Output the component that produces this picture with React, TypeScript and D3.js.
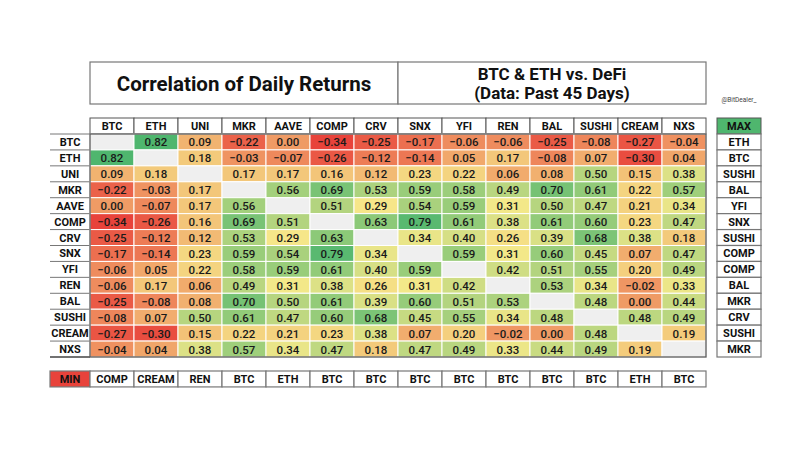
import React from "react";
import * as d3 from "d3";

// assets in table order
const assets = ["BTC", "ETH", "UNI", "MKR", "AAVE", "COMP", "CRV", "SNX", "YFI", "REN", "BAL", "SUSHI", "CREAM", "NXS"];

// correlation rows (null = diagonal)
const btcRow = [null, 0.82, 0.09, -0.22, 0.0, -0.34, -0.25, -0.17, -0.06, -0.06, -0.25, -0.08, -0.27, -0.04];
const ethRow = [0.82, null, 0.18, -0.03, -0.07, -0.26, -0.12, -0.14, 0.05, 0.17, -0.08, 0.07, -0.3, 0.04];
const uniRow = [0.09, 0.18, null, 0.17, 0.17, 0.16, 0.12, 0.23, 0.22, 0.06, 0.08, 0.5, 0.15, 0.38];
const mkrRow = [-0.22, -0.03, 0.17, null, 0.56, 0.69, 0.53, 0.59, 0.58, 0.49, 0.7, 0.61, 0.22, 0.57];
const aaveRow = [0.0, -0.07, 0.17, 0.56, null, 0.51, 0.29, 0.54, 0.59, 0.31, 0.5, 0.47, 0.21, 0.34];
const compRow = [-0.34, -0.26, 0.16, 0.69, 0.51, null, 0.63, 0.79, 0.61, 0.38, 0.61, 0.6, 0.23, 0.47];
const crvRow = [-0.25, -0.12, 0.12, 0.53, 0.29, 0.63, null, 0.34, 0.4, 0.26, 0.39, 0.68, 0.38, 0.18];
const snxRow = [-0.17, -0.14, 0.23, 0.59, 0.54, 0.79, 0.34, null, 0.59, 0.31, 0.6, 0.45, 0.07, 0.47];
const yfiRow = [-0.06, 0.05, 0.22, 0.58, 0.59, 0.61, 0.4, 0.59, null, 0.42, 0.51, 0.55, 0.2, 0.49];
const renRow = [-0.06, 0.17, 0.06, 0.49, 0.31, 0.38, 0.26, 0.31, 0.42, null, 0.53, 0.34, -0.02, 0.33];
const balRow = [-0.25, -0.08, 0.08, 0.7, 0.5, 0.61, 0.39, 0.6, 0.51, 0.53, null, 0.48, 0.0, 0.44];
const sushiRow = [-0.08, 0.07, 0.5, 0.61, 0.47, 0.6, 0.68, 0.45, 0.55, 0.34, 0.48, null, 0.48, 0.49];
const creamRow = [-0.27, -0.3, 0.15, 0.22, 0.21, 0.23, 0.38, 0.07, 0.2, -0.02, 0.0, 0.48, null, 0.19];
const nxsRow = [-0.04, 0.04, 0.38, 0.57, 0.34, 0.47, 0.18, 0.47, 0.49, 0.33, 0.44, 0.49, 0.19, null];

const rows = [btcRow, ethRow, uniRow, mkrRow, aaveRow, compRow, crvRow, snxRow, yfiRow, renRow, balRow, sushiRow, creamRow, nxsRow];

// most / least correlated asset per row / column
const maxLabels = ["ETH", "BTC", "SUSHI", "BAL", "YFI", "SNX", "SUSHI", "COMP", "COMP", "BAL", "MKR", "CRV", "SUSHI", "MKR"];
const minLabels = ["COMP", "CREAM", "REN", "BTC", "ETH", "BTC", "BTC", "BTC", "BTC", "BTC", "BTC", "BTC", "ETH", "BTC"];

const font = "Roboto, 'Liberation Sans', Arial, sans-serif";

export default function App() {
  const x = d3.scaleBand<string>().domain(assets).range([90, 706]);
  const y = d3.scaleBand<string>().domain(assets).range([134, 357]);

  const all = rows.flat().filter((v) => v !== null) as number[];
  const color = d3
    .scaleLinear<string>()
    .domain([d3.min(all)!, 0.3, d3.max(all)!])
    .range(["#e8433b", "#f6e98a", "#4fb66e"])
    .interpolate(d3.interpolateRgb);

  const bw = x.bandwidth();
  const bh = y.bandwidth();
  const headerY = 118;
  const minY = 371;
  const maxX = 717;

  return (
    <svg width={810} height={450} style={{ position: "absolute", left: 0, top: 0, background: "#fff" }} fontFamily={font}>
      {/* title boxes */}
      <rect x={90} y={62} width={308} height={42} fill="#fff" stroke="#777" strokeWidth={1.2} />
      <rect x={398} y={62} width={308} height={42} fill="#fff" stroke="#777" strokeWidth={1.2} />
      <text x={244} y={84} textAnchor="middle" dominantBaseline="central" fontSize={20.5} fontWeight={700} fill="#111">
        Correlation of Daily Returns
      </text>
      <text x={552} y={74} textAnchor="middle" dominantBaseline="central" fontSize={17} fontWeight={700} fill="#111">
        BTC &amp; ETH vs. DeFi
      </text>
      <text x={552} y={93} textAnchor="middle" dominantBaseline="central" fontSize={17} fontWeight={700} fill="#111">
        (Data: Past 45 Days)
      </text>
      <text x={739} y={100} textAnchor="middle" dominantBaseline="central" fontSize={6.5} fill="#444">
        @BitDealer_
      </text>

      {/* column headers */}
      {assets.map((a) => (
        <g key={"h" + a}>
          <rect x={x(a)} y={headerY} width={bw} height={134 - headerY} fill="#fff" stroke="#555" strokeWidth={1} />
          <text x={x(a)! + bw / 2} y={headerY + 8.5} textAnchor="middle" dominantBaseline="central" fontSize={11} fontWeight={700} fill="#111">
            {a}
          </text>
        </g>
      ))}

      {/* row labels */}
      {assets.map((a) => (
        <g key={"r" + a}>
          <line x1={50} x2={90} y1={y(a)! + bh} y2={y(a)! + bh} stroke="#777" strokeWidth={1} />
          <text x={70} y={y(a)! + bh / 2 + 0.5} textAnchor="middle" dominantBaseline="central" fontSize={11} fontWeight={700} fill="#111">
            {a}
          </text>
        </g>
      ))}
      <line x1={50} x2={90} y1={134} y2={134} stroke="#777" strokeWidth={1} />

      {/* cells */}
      {rows.map((row, i) =>
        row.map((v, j) => {
          const cx = x(assets[j])!;
          const cy = y(assets[i])!;
          return (
            <g key={i + "-" + j}>
              <rect x={cx} y={cy} width={bw} height={bh} fill={v === null ? "#efefef" : color(v)} stroke="#fff" strokeWidth={1} />
              {v !== null && (
                <text x={cx + bw / 2} y={cy + bh / 2 + 0.5} textAnchor="middle" dominantBaseline="central" fontSize={11.5} fontWeight={500} fill="#1a1a1a">
                  {d3.format(".2f")(v)}
                </text>
              )}
            </g>
          );
        })
      )}
      <rect x={90} y={134} width={616} height={223} fill="none" stroke="#5a5a5a" strokeWidth={1.3} />
      <line x1={50} x2={90} y1={357} y2={357} stroke="#5a5a5a" strokeWidth={1.3} />

      {/* MAX column */}
      <rect x={maxX} y={headerY} width={bw} height={134 - headerY} fill={color(d3.max(all)!)} stroke="#555" strokeWidth={1} />
      <text x={maxX + bw / 2} y={headerY + 8.5} textAnchor="middle" dominantBaseline="central" fontSize={11} fontWeight={700} fill="#111">
        MAX
      </text>
      {maxLabels.map((m, i) => (
        <g key={"max" + i}>
          <rect x={maxX} y={y(assets[i])} width={bw} height={bh} fill="#fff" stroke="#777" strokeWidth={1.2} />
          <text x={maxX + bw / 2} y={y(assets[i])! + bh / 2 + 0.5} textAnchor="middle" dominantBaseline="central" fontSize={11} fontWeight={700} fill="#111">
            {m}
          </text>
        </g>
      ))}

      {/* MIN row */}
      <rect x={50} y={minY} width={40} height={bh} fill={color(d3.min(all)!)} stroke="#777" strokeWidth={1.2} />
      <text x={70} y={minY + bh / 2 + 0.5} textAnchor="middle" dominantBaseline="central" fontSize={11} fontWeight={700} fill="#111">
        MIN
      </text>
      {minLabels.map((m, j) => (
        <g key={"min" + j}>
          <rect x={x(assets[j])} y={minY} width={bw} height={bh} fill="#fff" stroke="#777" strokeWidth={1.2} />
          <text x={x(assets[j])! + bw / 2} y={minY + bh / 2 + 0.5} textAnchor="middle" dominantBaseline="central" fontSize={11} fontWeight={700} fill="#111">
            {m}
          </text>
        </g>
      ))}
    </svg>
  );
}
